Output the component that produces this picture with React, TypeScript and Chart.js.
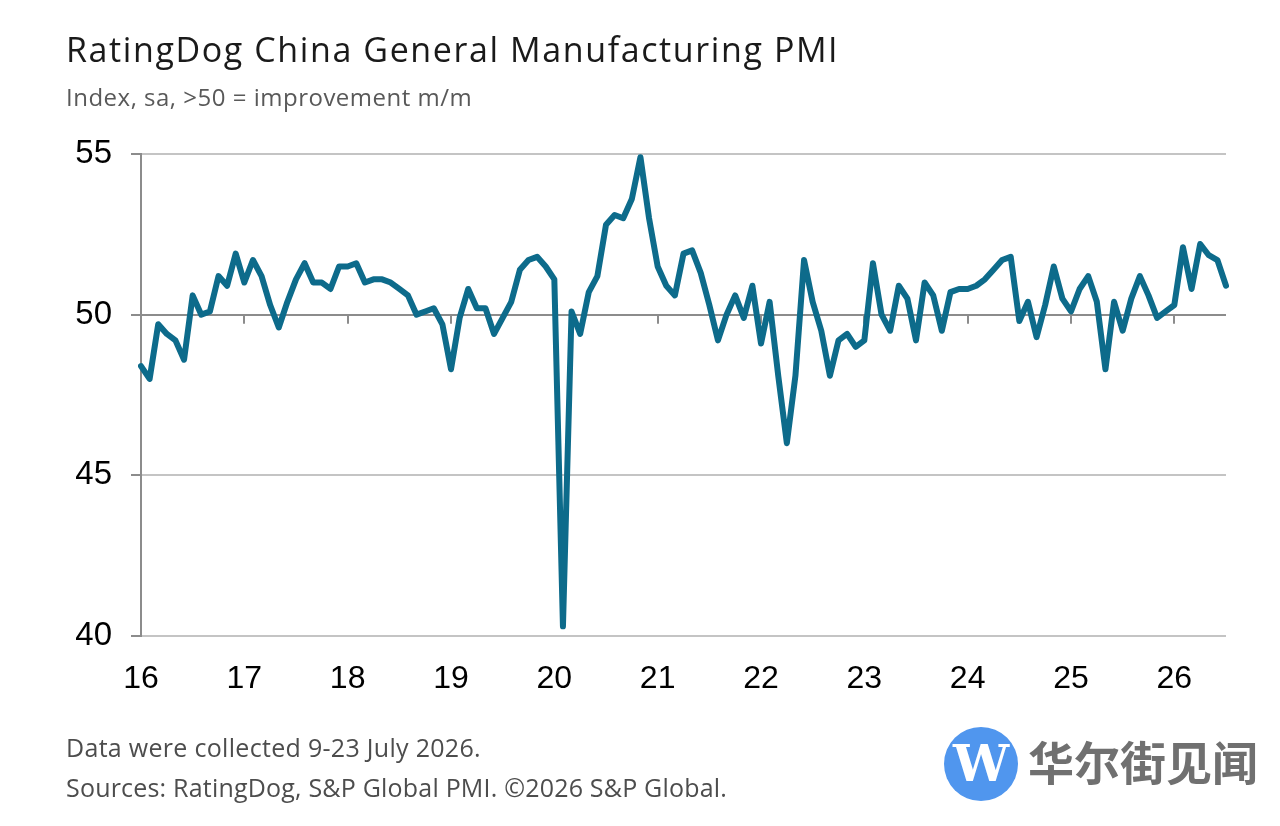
import React, { useEffect, useRef } from "react";
import { Chart, registerables } from "chart.js";

Chart.register(...registerables);

const YEAR_LABELS = ["16", "17", "18", "19", "20", "21", "22", "23", "24", "25", "26"];
const MONTHS = ["Jan", "Feb", "Mar", "Apr", "May", "Jun", "Jul", "Aug", "Sep", "Oct", "Nov", "Dec"];

const PMI_2016 = [48.4, 48.0, 49.7, 49.4, 49.2, 48.6, 50.6, 50.0, 50.1, 51.2, 50.9, 51.9];
const PMI_2017 = [51.0, 51.7, 51.2, 50.3, 49.6, 50.4, 51.1, 51.6, 51.0, 51.0, 50.8, 51.5];
const PMI_2018 = [51.5, 51.6, 51.0, 51.1, 51.1, 51.0, 50.8, 50.6, 50.0, 50.1, 50.2, 49.7];
const PMI_2019 = [48.3, 49.9, 50.8, 50.2, 50.2, 49.4, 49.9, 50.4, 51.4, 51.7, 51.8, 51.5];
const PMI_2020 = [51.1, 40.3, 50.1, 49.4, 50.7, 51.2, 52.8, 53.1, 53.0, 53.6, 54.9, 53.0];
const PMI_2021 = [51.5, 50.9, 50.6, 51.9, 52.0, 51.3, 50.3, 49.2, 50.0, 50.6, 49.9, 50.9];
const PMI_2022 = [49.1, 50.4, 48.1, 46.0, 48.1, 51.7, 50.4, 49.5, 48.1, 49.2, 49.4, 49.0];
const PMI_2023 = [49.2, 51.6, 50.0, 49.5, 50.9, 50.5, 49.2, 51.0, 50.6, 49.5, 50.7, 50.8];
const PMI_2024 = [50.8, 50.9, 51.1, 51.4, 51.7, 51.8, 49.8, 50.4, 49.3, 50.3, 51.5, 50.5];
const PMI_2025 = [50.1, 50.8, 51.2, 50.4, 48.3, 50.4, 49.5, 50.5, 51.2, 50.6, 49.9, 50.1];
const PMI_2026 = [50.3, 52.1, 50.8, 52.2, 51.85, 51.7, 50.9];

const PMI_SERIES = [
  ...PMI_2016, ...PMI_2017, ...PMI_2018, ...PMI_2019, ...PMI_2020, ...PMI_2021,
  ...PMI_2022, ...PMI_2023, ...PMI_2024, ...PMI_2025, ...PMI_2026,
];
const MONTH_LABELS = PMI_SERIES.map((_, i) => `${MONTHS[i % 12]} ${YEAR_LABELS[Math.floor(i / 12)]}`);

const Y_TICKS = [40, 45, 50, 55];

const LINE_COLOR = "#0d6b8b";
const AXIS_COLOR = "#8c8c8c";
const GRID_COLOR = "#c4c4c4";

const textFont = "'Open Sans', 'Noto Sans', sans-serif";

const midTicksPlugin = {
  id: "midTicks",
  beforeDatasetsDraw(chart: any) {
    const x = chart.scales.x;
    const y = chart.scales.y;
    const yPix = y.getPixelForValue(50);
    const ctx = chart.ctx;
    ctx.save();
    ctx.strokeStyle = AXIS_COLOR;
    ctx.lineWidth = 2;
    for (let i = 12; i < PMI_SERIES.length; i += 12) {
      const xp = Math.round(x.getPixelForValue(i));
      ctx.beginPath();
      ctx.moveTo(xp, yPix);
      ctx.lineTo(xp, yPix + 9);
      ctx.stroke();
    }
    ctx.restore();
  },
};

export default function App() {
  const canvasRef = useRef<HTMLCanvasElement | null>(null);

  useEffect(() => {
    const canvas = canvasRef.current;
    if (!canvas) return;
    const chart = new Chart(canvas, {
      type: "line",
      data: {
        labels: MONTH_LABELS,
        datasets: [
          {
            data: PMI_SERIES,
            borderColor: LINE_COLOR,
            borderWidth: 6,
            pointRadius: 0,
            tension: 0,
            fill: false,
            borderJoinStyle: "round",
            borderCapStyle: "round",
          },
        ],
      },
      options: {
        animation: false,
        responsive: false,
        maintainAspectRatio: false,
        devicePixelRatio: 1,
        layout: { padding: { left: 0, top: 154, right: 54, bottom: 0 } },
        plugins: {
          legend: { display: false },
          tooltip: { enabled: false },
          title: { display: false },
        },
        scales: {
          x: {
            type: "category",
            offset: false,
            grid: { display: false, drawTicks: false },
            border: { display: false },
            ticks: {
              autoSkip: false,
              maxRotation: 0,
              minRotation: 0,
              padding: 24,
              color: "#000",
              font: { family: "'Liberation Sans', Arial, sans-serif", size: 32 },
              callback: (_v: any, i: number) => (i % 12 === 0 ? YEAR_LABELS[i / 12] : ""),
            },
            afterFit: (s: any) => {
              s.height = 190;
            },
          },
          y: {
            min: 40,
            max: 55,
            afterBuildTicks: (s: any) => {
              s.ticks = Y_TICKS.map((v) => ({ value: v }));
            },
            ticks: {
              padding: 19,
              color: "#000",
              font: { family: "'Liberation Sans', Arial, sans-serif", size: 33 },
              callback: (v: any) => String(v),
            },
            grid: {
              color: (c: any) => (c.tick && c.tick.value === 50 ? AXIS_COLOR : GRID_COLOR),
              lineWidth: 2,
              tickLength: 10,
              tickColor: AXIS_COLOR,
            },
            border: { color: AXIS_COLOR, width: 2 },
            afterFit: (s: any) => {
              s.width = 141;
            },
          },
        },
      },
      plugins: [midTicksPlugin],
    });
    return () => chart.destroy();
  }, []);

  return (
    <div style={{ position: "absolute", left: 0, top: 0, width: 1280, height: 826, background: "#fff", overflow: "hidden" }}>
      <canvas ref={canvasRef} width={1280} height={826} style={{ position: "absolute", left: 0, top: 0, width: 1280, height: 826 }} />
      <div style={{ position: "absolute", left: 66, top: 32, fontFamily: textFont, fontSize: 34, lineHeight: "34px", letterSpacing: "1.6px", color: "#1a1a1a", whiteSpace: "nowrap" }}>
        RatingDog China General Manufacturing PMI
      </div>
      <div style={{ position: "absolute", left: 66, top: 85, fontFamily: textFont, fontSize: 24, lineHeight: "24px", letterSpacing: "0.5px", color: "#595959", whiteSpace: "nowrap" }}>
        Index, sa, &gt;50 = improvement m/m
      </div>
      <div style={{ position: "absolute", left: 66, top: 735, fontFamily: textFont, fontSize: 25, lineHeight: "25px", letterSpacing: "0.3px", color: "#4d4d4d", whiteSpace: "nowrap" }}>
        Data were collected 9-23 July 2026.
      </div>
      <div style={{ position: "absolute", left: 66, top: 775, fontFamily: textFont, fontSize: 25, lineHeight: "25px", letterSpacing: "0.2px", color: "#4d4d4d", whiteSpace: "nowrap" }}>
        Sources: RatingDog, S&amp;P Global PMI. ©2026 S&amp;P Global.
      </div>
      <div style={{ position: "absolute", left: 944, top: 727, width: 74, height: 74, borderRadius: "50%", background: "#5096ee", color: "#fff", fontFamily: "'DejaVu Serif', serif", fontWeight: 700, fontSize: 50, lineHeight: "74px", textAlign: "center" }}>
        W
      </div>
      <div style={{ position: "absolute", left: 1028, top: 737, fontFamily: "'Noto Sans CJK SC', sans-serif", fontWeight: 700, fontSize: 46, lineHeight: "46px", color: "#707070", whiteSpace: "nowrap" }}>
        华尔街见闻
      </div>
    </div>
  );
}
